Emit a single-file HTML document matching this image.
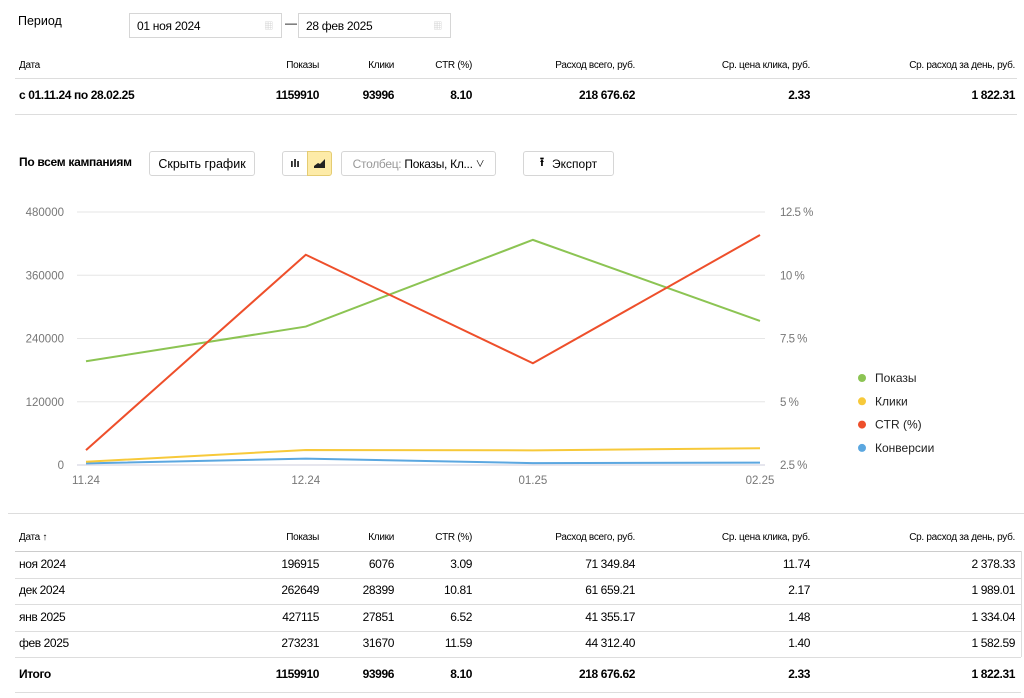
<!DOCTYPE html>
<html><head><meta charset="utf-8">
<style>
body{margin:0;width:1024px;height:698px;background:#fff;font-family:"Liberation Sans","Noto Sans CJK SC",sans-serif;color:#000;position:relative;overflow:hidden}
.a{position:absolute;white-space:nowrap}
.h{font-size:10px;letter-spacing:-0.3px}
.d{font-size:12px;letter-spacing:-0.4px}
.b{font-weight:bold}
.ln{position:absolute;height:1px;background:#ddd}
.btn{position:absolute;border:1px solid #d6d6d6;border-radius:3px;background:#fff;box-sizing:border-box;font-size:12.5px;display:flex;align-items:center;justify-content:center}
.inp{position:absolute;border:1px solid #d6d6d6;background:#fff;box-sizing:border-box;font-size:12px;padding-left:7px;line-height:24px;letter-spacing:-0.3px}
</style></head><body>
<div class="a" style="left:18px;top:14px;font-size:12.5px">Период</div>
<div class="inp" style="left:129px;top:13px;width:153px;height:25px">01 ноя 2024<span style="position:absolute;right:8px;top:0;color:#ccc;font-size:9px">▦</span></div>
<div class="a" style="left:285px;top:16px;font-size:12px">—</div>
<div class="inp" style="left:298px;top:13px;width:153px;height:25px">28 фев 2025<span style="position:absolute;right:8px;top:0;color:#ccc;font-size:9px">▦</span></div>

<div id="topT"></div>
<div class="ln" style="left:15px;top:78px;width:1002px"></div>
<div class="ln" style="left:15px;top:114px;width:1002px"></div>

<div class="a b" style="left:19px;top:155px;font-size:12px;letter-spacing:-0.3px">По всем кампаниям</div>
<div class="btn" style="left:149px;top:151px;width:106px;height:25px">Скрыть график</div>
<div class="btn" style="left:282px;top:151px;width:26px;height:25px;border-radius:3px 0 0 3px;font-size:11px;font-weight:bold">ılı</div>
<div class="btn" style="left:307px;top:151px;width:25px;height:25px;background:#fdeba8;border-color:#e5cc72;border-radius:0 3px 3px 0"><svg width="11" height="9"><path d="M0 9 L0 7 L4 4 L6 5 L11 0 L11 9Z" fill="#222"/></svg></div>
<div class="btn" style="left:341px;top:151px;width:155px;height:25px;font-size:12px;letter-spacing:-0.3px"><span style="color:#999">Столбец:</span>&nbsp;Показы, Кл... <span style="font-size:9px;margin-left:3px">∨</span></div>
<div class="btn" style="left:523px;top:151px;width:91px;height:25px;font-size:12px"><span style="margin-right:8px;font-weight:bold">⭱</span>Экспорт</div>

<svg id="chart" class="a" style="left:0;top:195px" width="1024" height="300"></svg>

<div class="ln" style="left:8px;top:513px;width:1016px"></div>
<div id="botT"></div>
<div class="ln" style="left:15px;top:551px;width:1006px;background:#ccc"></div>
<div class="ln" style="left:15px;top:578px;width:1006px"></div>
<div class="ln" style="left:15px;top:604px;width:1006px"></div>
<div class="ln" style="left:15px;top:631px;width:1006px"></div>
<div class="ln" style="left:15px;top:657px;width:1006px"></div>
<div class="ln" style="left:15px;top:692px;width:1006px"></div>
<div style="position:absolute;left:1021px;top:551px;width:1px;height:106px;background:#ddd"></div>

<script>
const months=["11.24","12.24","01.25","02.25"];
const dayOffsets=[0,30,61,92];
const shows=[196915,262649,427115,273231];
const clicks=[6076,28399,27851,31670];
const ctr=[3.09,10.81,6.52,11.59];
const conv=[3000,12000,3500,4500];
const leftTicks=[0,120000,240000,360000,480000];
const rightTicks=["2.5 %","5 %","7.5 %","10 %","12.5 %"];
const rightVals=[2.5,5,7.5,10,12.5];

const cols=[{x:19},{x:319},{x:394},{x:472},{x:635},{x:810},{x:1015}];
const heads=["Дата","Показы","Клики","CTR (%)","Расход всего, руб.","Ср. цена клика, руб.","Ср. расход за день, руб."];
const rows=[["ноя 2024","196915","6076","3.09","71 349.84","11.74","2 378.33"],
["дек 2024","262649","28399","10.81","61 659.21","2.17","1 989.01"],
["янв 2025","427115","27851","6.52","41 355.17","1.48","1 334.04"],
["фев 2025","273231","31670","11.59","44 312.40","1.40","1 582.59"]];
const total=["Итого","1159910","93996","8.10","218 676.62","2.33","1 822.31"];
const summary=["с 01.11.24 по 28.02.25","1159910","93996","8.10","218 676.62","2.33","1 822.31"];

function cell(parent,txt,i,y,cls){
  const d=document.createElement('div');
  d.className='a '+cls;
  d.textContent=txt;
  
  
  if(i==0){d.style.left=cols[0].x+'px';}else{d.style.right=(1024-cols[i].x)+'px';}
  d.style.top=y+'px';
  parent.appendChild(d);
}
const topT=document.getElementById('topT'),botT=document.getElementById('botT');
heads.forEach((t,i)=>cell(topT,t,i,60,'h'));
summary.forEach((t,i)=>cell(topT,t,i,88,'d b'));
heads.forEach((t,i)=>cell(botT,i==0?"Дата ↑":t,i,532,'h'));
rows.forEach((r,j)=>r.forEach((t,i)=>cell(botT,t,i,557+j*26.4,'d')));
total.forEach((t,i)=>cell(botT,t,i,667,'d b'));

const NS="http://www.w3.org/2000/svg";
const svg=document.getElementById('chart');
const X0=86,X1=760,Y0=270,Y1=17;
const xs=i=>X0+(X1-X0)*dayOffsets[i]/dayOffsets[dayOffsets.length-1];
const yl=v=>Y0-(Y0-Y1)*v/480000;
const yr=v=>Y0-(Y0-Y1)*(v-2.5)/10;
function el(tag,attrs,txt){const e=document.createElementNS(NS,tag);for(const k in attrs)e.setAttribute(k,attrs[k]);if(txt!==undefined)e.textContent=txt;svg.appendChild(e);return e;}
leftTicks.forEach(v=>{
  const g=el('line',{x1:77,x2:765,y1:yl(v),y2:yl(v),stroke:v==0?'#ccd':'#e6e6e6'});
  
  const t=el('text',{x:64,y:yl(v)+4,'text-anchor':'end','font-size':11.5,fill:'#777'},v);
  
});
rightVals.forEach((v,i)=>{
  const t=el('text',{x:780,y:yr(v)+4,'font-size':11.5,fill:'#777','letter-spacing':'-0.5'},rightTicks[i]);
  
});
months.forEach((m,i)=>{
  const t=el('text',{x:xs(i),y:289,'text-anchor':'middle','font-size':11.5,fill:'#777'},m);
  
});
function line(vals,f,c,name){
  const p=el('polyline',{points:vals.map((v,i)=>xs(i)+','+f(v)).join(' '),fill:'none',stroke:c,'stroke-width':2});
  
}
line(conv,yl,'#5ba7e0','conversions-line');
line(clicks,yl,'#f7c93a','clicks-line');
line(shows,yl,'#8cc453','shows-line');
line(ctr,yr,'#ee4f2b','ctr-line');
const leg=[["Показы","#8cc453"],["Клики","#f7c93a"],["CTR (%)","#ee4f2b"],["Конверсии","#5ba7e0"]];
leg.forEach((l,i)=>{
  const y=183+i*23.3;
  const c=el('circle',{cx:862,cy:y,r:4,fill:l[1]});
  
  const t=el('text',{x:875,y:y+4,'font-size':12,fill:'#222'},l[0]);
  
});
</script>
</body></html>
